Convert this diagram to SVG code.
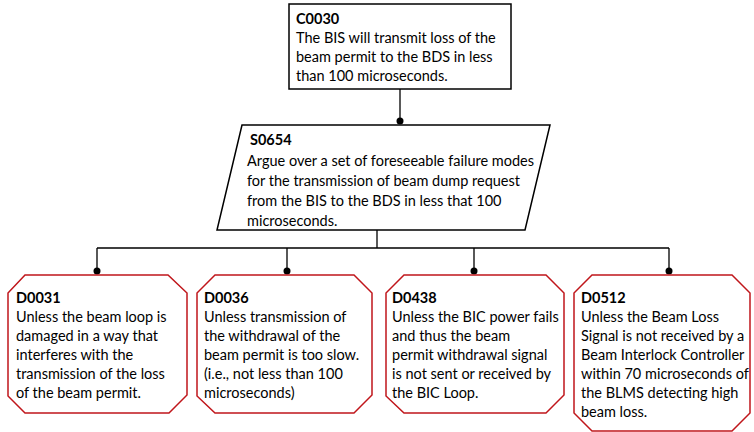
<svg xmlns="http://www.w3.org/2000/svg" width="754" height="432" viewBox="0 0 754 432">
<style>
.t{font-family:Lato,"Liberation Sans",sans-serif;font-size:14.5px;fill:#000}
.b{font-weight:bold}
.blk{fill:#fff;stroke:#000;stroke-width:1.5}
.red{fill:#fff;stroke:#c0161b;stroke-width:1.5}
.ln{stroke:#000;stroke-width:1.3;fill:none}
.dot{fill:#000}
</style>
<rect width="754" height="432" fill="#fff"/>
<g id="connectors">
<path class="ln" d="M400,89 V121"/>
<path class="ln" d="M377,230 V248 M97,248 H669 M97,248 V271 M287,248 V271 M474,248 V271 M669,248 V271"/>
<circle class="dot" cx="400" cy="121" r="3.5"/>
<circle class="dot" cx="97" cy="271" r="3.5"/>
<circle class="dot" cx="287" cy="271" r="3.5"/>
<circle class="dot" cx="474" cy="271" r="3.5"/>
<circle class="dot" cx="669" cy="271" r="3.5"/>
</g>
<g id="C0030">
<rect class="blk" x="289" y="4" width="222" height="85"/>
<text class="t"><tspan class="b" x="296" y="24">C0030</tspan><tspan x="296" y="43">The BIS will transmit loss of the</tspan><tspan x="296" y="62">beam permit to the BDS in less</tspan><tspan x="296" y="81">than 100 microseconds.</tspan></text>
</g>
<g id="S0654">
<polygon class="blk" points="242,125 550,125 525,230 217,230"/>
<text class="t"><tspan class="b" x="250" y="145">S0654</tspan><tspan x="247" y="166">Argue over a set of foreseeable failure modes</tspan><tspan x="247" y="186">for the transmission of beam dump request</tspan><tspan x="247" y="206">from the BIS to the BDS in less that 100</tspan><tspan x="247" y="226">microseconds.</tspan></text>
</g>
<g id="D0031">
<polygon class="red" points="25,275 168,275 187,293 187,395 169,413 25,413 8,396 8,293"/>
<text class="t"><tspan class="b" x="16" y="303">D0031</tspan><tspan x="16" y="322">Unless the beam loop is</tspan><tspan x="16" y="341">damaged in a way that</tspan><tspan x="16" y="360">interferes with the</tspan><tspan x="16" y="379">transmission of the loss</tspan><tspan x="16" y="398">of the beam permit.</tspan></text>
</g>
<g id="D0036">
<polygon class="red" points="215,275 354,275 372,293 372,395 354,413 215,413 197,396 197,293"/>
<text class="t"><tspan class="b" x="204" y="303">D0036</tspan><tspan x="204" y="322">Unless transmission of</tspan><tspan x="204" y="341">the withdrawal of the</tspan><tspan x="204" y="360">beam permit is too slow.</tspan><tspan x="204" y="379">(i.e., not less than 100</tspan><tspan x="204" y="398">microseconds)</tspan></text>
</g>
<g id="D0438">
<polygon class="red" points="404,275 546,275 564,293 564,395 546,413 404,413 386,396 386,293"/>
<text class="t"><tspan class="b" x="392" y="303">D0438</tspan><tspan x="392" y="322">Unless the BIC power fails</tspan><tspan x="392" y="341">and thus the beam</tspan><tspan x="392" y="360">permit withdrawal signal</tspan><tspan x="392" y="379">is not sent or received by</tspan><tspan x="392" y="398">the BIC Loop.</tspan></text>
</g>
<g id="D0512">
<polygon class="red" points="592,275 732,275 750,293 750,413 732,431 592,431 574,413 574,293"/>
<text class="t"><tspan class="b" x="581" y="303">D0512</tspan><tspan x="581" y="322">Unless the Beam Loss</tspan><tspan x="581" y="341">Signal is not received by a</tspan><tspan x="581" y="360">Beam Interlock Controller</tspan><tspan x="581" y="379">within 70 microseconds of</tspan><tspan x="581" y="398">the BLMS detecting high</tspan><tspan x="581" y="417">beam loss.</tspan></text>
</g>
</svg>
